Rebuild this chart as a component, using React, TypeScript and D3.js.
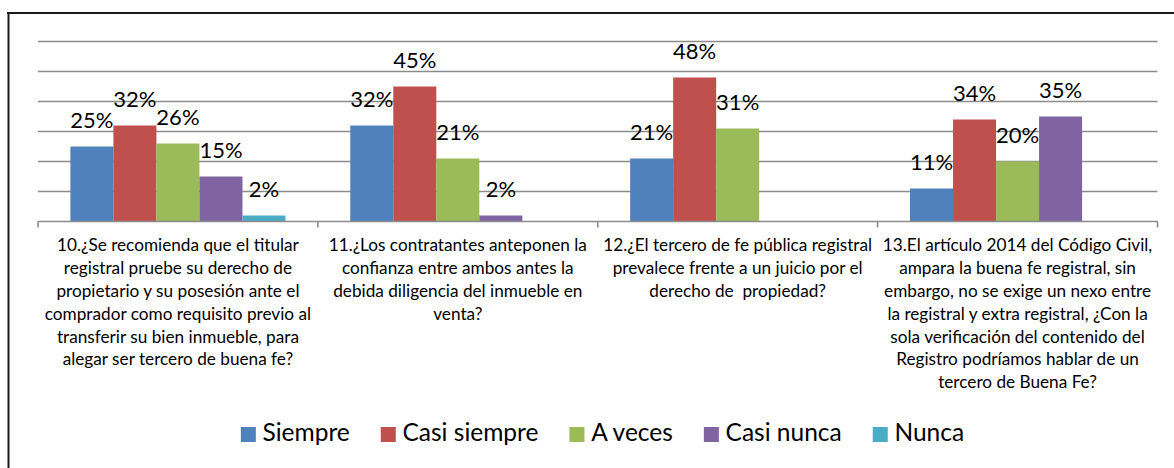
import React, { useEffect, useRef } from "react";
import * as d3 from "d3";

const categories: string[][] = [
  [
    "10.¿Se recomienda que el titular",
    "registral pruebe su derecho de",
    "propietario y su posesión ante el",
    "comprador como requisito previo al",
    "transferir su bien inmueble, para",
    "alegar ser tercero de buena fe?",
  ],
  [
    "11.¿Los contratantes anteponen la",
    "confianza entre ambos antes la",
    "debida diligencia del inmueble en",
    "venta?",
  ],
  [
    "12.¿El tercero de fe pública registral",
    "prevalece frente a un juicio por el",
    "derecho de  propiedad?",
  ],
  [
    "13.El artículo 2014 del Código Civil,",
    "ampara la buena fe registral, sin",
    "embargo, no se exige un nexo entre",
    "la registral y extra registral, ¿Con la",
    "sola verificación del contenido del",
    "Registro podríamos hablar de un",
    "tercero de Buena Fe?",
  ],
];

const seriesNames = ["Siempre", "Casi siempre", "A veces", "Casi nunca", "Nunca"];
const siempre = [25, 32, 21, 11];
const casiSiempre = [32, 45, 48, 34];
const aVeces = [26, 21, 31, 20];
const casiNunca: (number | null)[] = [15, 2, null, 35];
const nunca: (number | null)[] = [2, null, null, null];
const seriesValues: (number | null)[][] = [siempre, casiSiempre, aVeces, casiNunca, nunca];
const yTicks = [0, 10, 20, 30, 40, 50, 60];

const colors = ["#4F81BD", "#C0504D", "#9BBB59", "#8064A2", "#4BACC6"];

const W = 1174;
const H = 468;
const FONT = "Lato, 'Open Sans', sans-serif";

export default function App() {
  const ref = useRef<SVGSVGElement | null>(null);

  useEffect(() => {
    const svg = d3.select(ref.current);
    svg.selectAll("*").remove();

    const plotL = 38;
    const plotR = 1157.5;
    const y = d3.scaleLinear().domain([0, 60]).range([221.5, 41.5]);
    const x0 = d3
      .scaleBand<number>()
      .domain(categories.map((_, i) => i))
      .range([plotL, plotR])
      .paddingInner(0)
      .paddingOuter(0);
    const x1 = d3
      .scaleBand<number>()
      .domain(seriesNames.map((_, i) => i))
      .range([0, x0.bandwidth()])
      .paddingInner(0)
      .paddingOuter(0.753);

    // frame
    svg.append("line").attr("x1", 7).attr("x2", W).attr("y1", 13).attr("y2", 13)
      .attr("stroke", "#1a1a1a").attr("stroke-width", 2);
    svg.append("line").attr("x1", 8.5).attr("x2", 8.5).attr("y1", 12).attr("y2", H)
      .attr("stroke", "#1a1a1a").attr("stroke-width", 2);

    // gridlines
    svg.append("g")
      .selectAll("line")
      .data(yTicks.filter((t) => t > 0))
      .join("line")
      .attr("x1", plotL)
      .attr("x2", plotR)
      .attr("y1", (d) => y(d))
      .attr("y2", (d) => y(d))
      .attr("stroke", "#8c8c8c")
      .attr("stroke-width", 1.6);

    // bars
    const flat: { c: number; s: number; v: number }[] = [];
    seriesValues.forEach((vals, s) =>
      vals.forEach((v, c) => {
        if (v !== null && v !== undefined) flat.push({ c, s, v });
      })
    );

    svg.append("g")
      .selectAll("rect")
      .data(flat)
      .join("rect")
      .attr("x", (d) => (x0(d.c) as number) + (x1(d.s) as number))
      .attr("width", x1.bandwidth())
      .attr("y", (d) => y(d.v))
      .attr("height", (d) => y(0) - y(d.v))
      .attr("fill", (d) => colors[d.s]);

    // axis line + ticks
    svg.append("line").attr("x1", plotL).attr("x2", plotR).attr("y1", y(0)).attr("y2", y(0))
      .attr("stroke", "#8c8c8c").attr("stroke-width", 1.6);
    const bounds = categories.map((_, i) => x0(i) as number).concat([plotR]);
    svg.append("g")
      .selectAll("line")
      .data(bounds)
      .join("line")
      .attr("x1", (d) => d)
      .attr("x2", (d) => d)
      .attr("y1", y(0))
      .attr("y2", y(0) + 6)
      .attr("stroke", "#8c8c8c")
      .attr("stroke-width", 1.6);

    // data labels
    svg.append("g")
      .selectAll("text")
      .data(flat)
      .join("text")
      .attr("x", (d) => (x0(d.c) as number) + (x1(d.s) as number) + x1.bandwidth() / 2)
      .attr("y", (d) => y(d.v) - 18.5)
      .attr("text-anchor", "middle")
      .attr("font-family", FONT)
      .attr("font-size", 22)
      .attr("fill", "#000")
      .text((d) => `${d.v}%`);

    // category labels
    const cg = svg.append("g");
    categories.forEach((lines, i) => {
      const cx = (x0(i) as number) + x0.bandwidth() / 2;
      const t = cg
        .append("text")
        .attr("text-anchor", "middle")
        .attr("font-family", FONT)
        .attr("font-size", 17.2)
        .attr("fill", "#000")
        .style("white-space", "pre");
      lines.forEach((ln, j) => {
        t.append("tspan").attr("x", cx).attr("y", 251.3 + j * 22.8).text(ln);
      });
    });

    // legend
    const lg = svg.append("g");
    const items = seriesNames.map((name, i) => {
      const g = lg.append("g");
      g.append("rect").attr("x", 0).attr("y", 427).attr("width", 15).attr("height", 15)
        .attr("fill", colors[i]);
      const tx = g
        .append("text")
        .attr("x", 21.7)
        .attr("y", 441.3)
        .attr("font-family", FONT)
        .attr("font-size", 24.5)
        .attr("fill", "#000")
        .text(name);
      const w = (tx.node() as SVGTextElement).getComputedTextLength();
      return { g, w: 21.7 + w };
    });
    const gap = 31;
    const total = d3.sum(items, (d) => d.w) + gap * (items.length - 1);
    let cur = 602.5 - total / 2;
    items.forEach((it) => {
      it.g.attr("transform", `translate(${cur},0)`);
      cur += it.w + gap;
    });
  }, []);

  return (
    <svg
      ref={ref}
      width={W}
      height={H}
      style={{ position: "absolute", left: 0, top: 0, background: "#fff" }}
    />
  );
}
